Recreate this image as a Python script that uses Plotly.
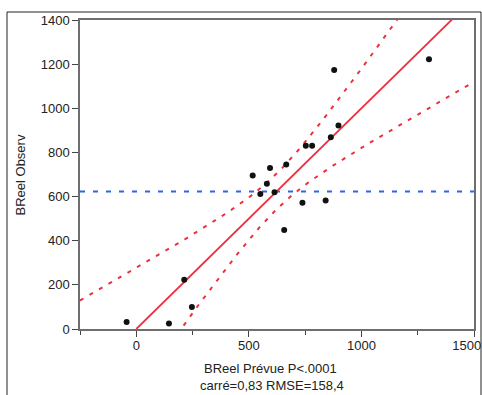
import numpy as np
import plotly.graph_objects as go

predicted = [517, 551, 580, 594, 614, 666, 753, 781, 864, 879, 898, 1300,
             -43, 145, 213, 247, 657, 738, 841]
observed = [695, 612, 658, 730, 620, 745, 830, 830, 869, 1174, 922, 1222,
            32, 25, 223, 100, 449, 572, 582]
mean_obs = 623
# confidence-curve parameters (offset^2 = ci_a + ci_b*(x-mean)^2)
ci_a = 6500
ci_b = 0.18

x_range = [-250, 1500]
y_range = [0, 1400]
x_ticks = [0, 500, 1000, 1500]
x_tick_labels = ["0", "500", "1000", "1500"]
y_ticks = [0, 200, 400, 600, 800, 1000, 1200, 1400]

red = "#EE2F3F"
blue = "#2F63F0"

xs = np.linspace(x_range[0], x_range[1], 400)
off = np.sqrt(ci_a + ci_b * (xs - mean_obs) ** 2)

fig = go.Figure()
fig.add_trace(go.Scatter(x=x_range, y=[mean_obs, mean_obs], mode="lines",
                         line=dict(color=blue, width=2.2, dash="5px,8px"), hoverinfo="skip"))
fig.add_trace(go.Scatter(x=xs, y=xs + off, mode="lines",
                         line=dict(color=red, width=2, dash="4px,7px"), hoverinfo="skip"))
fig.add_trace(go.Scatter(x=xs, y=xs - off, mode="lines",
                         line=dict(color=red, width=2, dash="4px,7px"), hoverinfo="skip"))
fig.add_trace(go.Scatter(x=[0, 1500], y=[0, 1500], mode="lines",
                         line=dict(color=red, width=1.8), hoverinfo="skip"))
fig.add_trace(go.Scatter(x=predicted, y=observed, mode="markers",
                         marker=dict(color="#111111", size=6)))

font = dict(family="Liberation Sans, Arial", size=13, color="#222222")


def px_x(p):
    return (p - 80) / 394


def px_y(p):
    return (329 - p) / 309


# last label is pushed inward (as in the reference) by padding with no-break spaces
x_text = x_tick_labels[:-1] + [x_tick_labels[-1] + "\u00a0" * 4]

fig.update_layout(
    width=482, height=395,
    margin=dict(l=80, r=8, t=20, b=66, autoexpand=False),
    paper_bgcolor="white", plot_bgcolor="white",
    showlegend=False, font=font,
    xaxis=dict(range=x_range, tickvals=x_ticks, ticktext=x_text,
               showgrid=False, zeroline=False,
               showline=True, mirror=True, linecolor="#6e6e6e", linewidth=1.5,
               ticks="outside", ticklen=6, tickcolor="#444444", automargin=False,
               ticklabeloverflow="allow", ticklabelstandoff=-2,
               minor=dict(dtick=250, tick0=-250, ticks="outside", ticklen=4, tickcolor="#444444")),
    yaxis=dict(range=y_range, tickvals=y_ticks, showgrid=False, zeroline=False,
               showline=True, mirror=True, linecolor="#6e6e6e", linewidth=1.5,
               ticks="outside", ticklen=6, tickcolor="#444444", automargin=False,
               ticklabeloverflow="allow"),
    annotations=[
        dict(text="BReel Observ", x=px_x(20), xref="paper", y=0.5, yref="paper",
             xanchor="center", yanchor="middle", textangle=-90, showarrow=False, font=font),
        dict(text="BReel Prévue P<.0001", x=px_x(270), xref="paper",
             y=px_y(368), yref="paper", xanchor="center", yanchor="middle",
             showarrow=False, font=font),
        dict(text="carré=0,83 RMSE=158,4", x=px_x(272), xref="paper",
             y=px_y(385), yref="paper", xanchor="center", yanchor="middle",
             showarrow=False, font=font),
    ],
)

# outer frame
frame = dict(color="#222222", width=1)
fig.add_shape(type="line", xref="paper", yref="paper", x0=px_x(7), x1=px_x(7),
              y0=px_y(12), y1=-0.3, line=frame)
fig.add_shape(type="line", xref="paper", yref="paper", x0=px_x(7), x1=px_x(481),
              y0=px_y(12), y1=px_y(12), line=frame)
fig.add_shape(type="line", xref="paper", yref="paper", x0=px_x(481), x1=px_x(481),
              y0=px_y(12), y1=-0.3, line=frame)

fig.write_html("out.html", config={"displayModeBar": False},
               post_script="document.body.style.margin='0';document.body.style.overflow='hidden';")
